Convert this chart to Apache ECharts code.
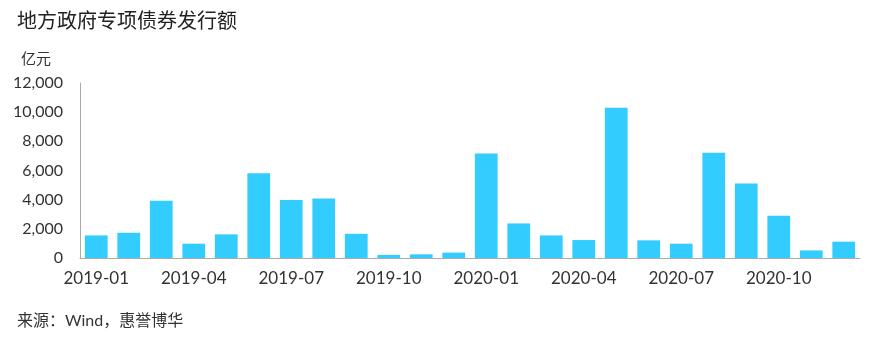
<!DOCTYPE html>
<html><head><meta charset="utf-8">
<script src="https://cdn.jsdelivr.net/npm/echarts@6/dist/echarts.min.js"></script>
<style>html,body{margin:0;padding:0;background:#fff}#c{width:885px;height:349px}</style>
</head><body><div id="c"></div>
<script>
const categories = ['2019-01','2019-02','2019-03','2019-04','2019-05','2019-06','2019-07','2019-08','2019-09','2019-10','2019-11','2019-12',
'2020-01','2020-02','2020-03','2020-04','2020-05','2020-06','2020-07','2020-08','2020-09','2020-10','2020-11','2020-12'];
const issuance = [1550,1730,3920,980,1620,5820,3970,4080,1660,210,250,370,
7160,2370,1550,1230,10310,1210,980,7210,5110,2900,520,1120];
const yTicks = [0,2000,4000,6000,8000,10000,12000];

const chart = echarts.init(document.getElementById('c'));
chart.setOption({
  animation:false,
  textStyle:{fontFamily:'Lato, "Noto Sans CJK SC", sans-serif'},
  title:[
    {text:'地方政府专项债券发行额',left:12,top:5,textStyle:{fontSize:20,fontWeight:'normal',color:'#222',fontFamily:'"Noto Sans CJK SC", sans-serif'}},
    {text:'亿元',left:16,top:46,textStyle:{fontSize:15,fontWeight:'normal',color:'#333',fontFamily:'"Noto Sans CJK SC", sans-serif'}},
    {text:'来源：Wind，惠誉博华',left:12,top:308,textStyle:{fontSize:16,fontWeight:'normal',color:'#333',fontFamily:'Lato, "Noto Sans CJK SC", sans-serif'}}
  ],
  grid:{left:80,right:25,top:83,bottom:91,containLabel:false},
  xAxis:{type:'category',data:categories,
    axisLine:{lineStyle:{color:'#aaa'}},axisTick:{show:false},
    axisLabel:{interval:2,color:'#333',fontSize:17,margin:12}},
  yAxis:{type:'value',min:yTicks[0],max:yTicks[yTicks.length-1],interval:2000,
    axisLine:{show:true,lineStyle:{color:'#aaa'}},axisTick:{show:false},splitLine:{show:false},
    axisLabel:{color:'#333',fontSize:16,margin:17,formatter:v=>v.toLocaleString('en-US')}},
  series:[{type:'bar',data:issuance,barCategoryGap:'30%',itemStyle:{color:'#33CCFF'}}]
});
</script></body></html>
